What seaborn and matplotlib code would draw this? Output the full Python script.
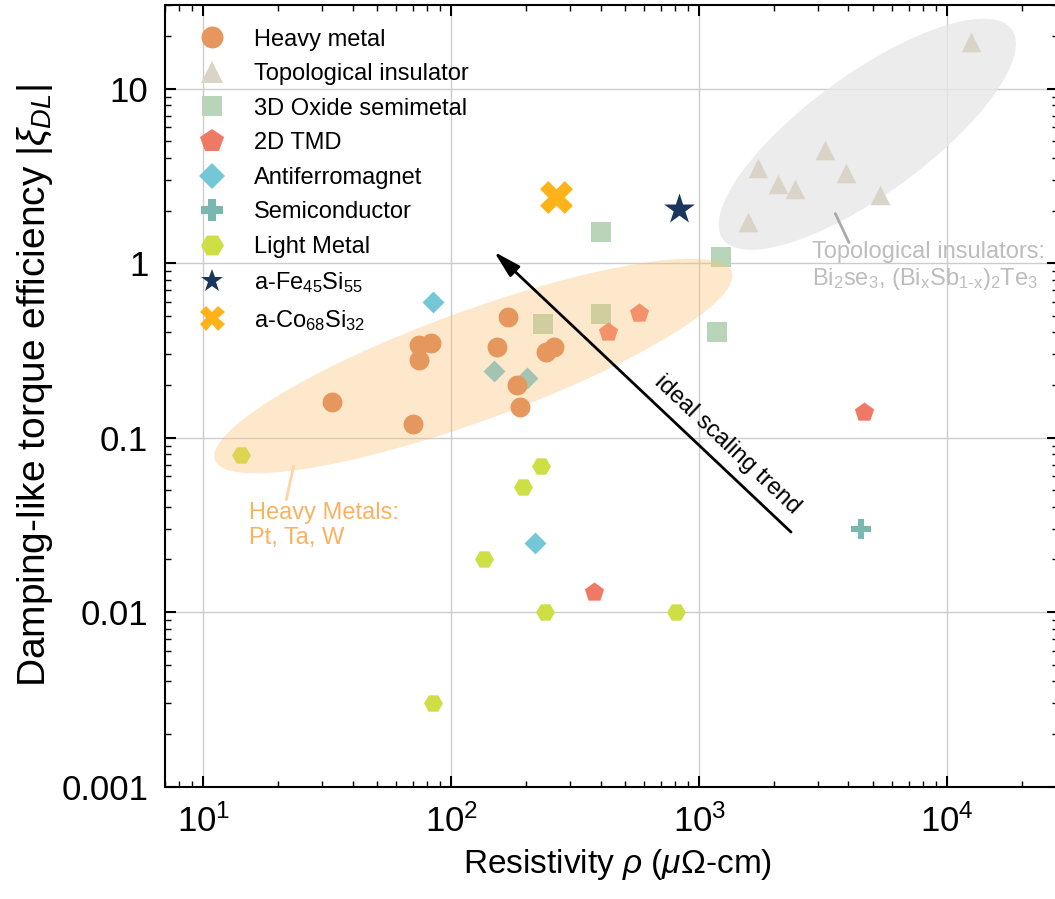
import pandas as pd
import seaborn as sns
import matplotlib.pyplot as plt
from matplotlib.lines import Line2D
from matplotlib.patches import Ellipse
from matplotlib.transforms import ScaledTranslation

# values
heavy_x = [33, 70, 74, 83, 74, 169, 153, 184, 189, 241, 260]
heavy_y = [0.16, 0.12, 0.34, 0.35, 0.28, 0.49, 0.33, 0.20, 0.15, 0.31, 0.33]
ti_x = [12500, 3220, 1730, 3920, 2080, 2440, 5350, 1580]
ti_y = [18.5, 4.45, 3.5, 3.3, 2.85, 2.65, 2.45, 1.73]
oxide_x = [234, 401, 401, 1225, 1180]
oxide_y = [0.45, 0.51, 1.50, 1.08, 0.40]
tmd_x = [574, 430, 4620, 375]
tmd_y = [0.52, 0.40, 0.14, 0.013]
afm_x = [84, 149, 202, 217]
afm_y = [0.60, 0.24, 0.22, 0.025]
semi_x = [4480]
semi_y = [0.030]
light_x = [14.2, 229, 194, 135, 239, 84.5, 807]
light_y = [0.079, 0.069, 0.052, 0.020, 0.010, 0.003, 0.010]
fesi_x = [828]
fesi_y = [2.04]
cosi_x = [264]
cosi_y = [2.4]

labels = ['Heavy metal', 'Topological insulator', '3D Oxide semimetal', '2D TMD',
          'Antiferromagnet', 'Semiconductor', 'Light Metal',
          r'a-Fe$_\mathregular{45}$Si$_\mathregular{55}$',
          r'a-Co$_\mathregular{68}$Si$_\mathregular{32}$']
xs = [heavy_x, ti_x, oxide_x, tmd_x, afm_x, semi_x, light_x, fesi_x, cosi_x]
ys = [heavy_y, ti_y, oxide_y, tmd_y, afm_y, semi_y, light_y, fesi_y, cosi_y]
colors = ['#E5975E', '#DAD4C8', '#B9D5B9', '#EE7A65', '#74C7D7', '#79B8B0',
          '#CEDF45', '#1B365D', '#FFB319']
markers = ['o', '^', 's', 'p', 'D', 'P', 'H', '*', 'X']
sizes = [205, 200, 190, 210, 125, 190, 185, 540, 560]
leg_ms = [15.8, 15.8, 15.1, 17.5, 13.5, 15.8, 16.5, 17.4, 18]

sns.set_style('white')
plt.rcParams['font.family'] = ['Liberation Sans', 'DejaVu Sans']
plt.rcParams['mathtext.fontset'] = 'custom'
plt.rcParams['mathtext.rm'] = 'Liberation Sans'
plt.rcParams['mathtext.it'] = 'Liberation Sans:italic'
plt.rcParams['mathtext.bf'] = 'Liberation Sans:bold'
for k in ['text.color', 'axes.labelcolor', 'xtick.color', 'ytick.color']:
    plt.rcParams[k] = 'black'

fig = plt.figure(figsize=(10.55, 8.99), dpi=100)
ax = fig.add_axes([165 / 1055, 112.5 / 899, 893 / 1055, 781.2 / 899])
ax.set(xscale='log', yscale='log')
ax.set_xlim(7, 28000)
ax.set_ylim(0.001, 30)

for i in range(len(labels)):
    z = 5 if i == 0 else 2
    sns.scatterplot(x=xs[i], y=ys[i], marker=markers[i], s=sizes[i],
                    color=colors[i], linewidth=0, ax=ax, zorder=z, legend=False)

# shaded regions (size in pixels, centred on a data point)
def blob(cx, cy, w, h, ang, color, alpha, z):
    tr = fig.dpi_scale_trans + ScaledTranslation(cx, cy, ax.transData)
    e = Ellipse((0, 0), w / 100, h / 100, angle=ang, transform=tr,
                facecolor=color, edgecolor='none', alpha=alpha, zorder=z)
    ax.add_patch(e)

blob(122.7, 0.257, 550, 110, 20, '#FDBF6F', 0.35, 3)
blob(4764, 5.47, 357, 120, 36, '#E6E8E7', 0.8, 1)

ax.annotate('', xy=(146, 1.19), xytext=(2390, 0.028),
            arrowprops=dict(arrowstyle='-|>,head_length=0.75,head_width=0.2',
                            lw=2, color='black', mutation_scale=22), zorder=6)
ax.text(1297, 0.091, 'ideal scaling trend', rotation=-43.3, rotation_mode='anchor',
        ha='center', va='center', fontsize=17, zorder=6)

ax.plot([23.1, 21.6], [0.0683, 0.044], color='#FDD5A5', lw=2, zorder=4)
ax.text(15.3, 0.0312, 'Heavy Metals:\nPt, Ta, W', color='#FBB260', fontsize=17,
        ha='left', va='center', zorder=6)
ax.plot([3540, 4018], [1.92, 1.31], color='#AAAAAA', lw=2, zorder=4)
ax.text(2858, 0.955,
        'Topological insulators:\n'
        r'Bi$_\mathregular{2}$se$_\mathregular{3}$, (Bi$_\mathregular{x}$Sb$_\mathregular{1\text{-}x}$)$_\mathregular{2}$Te$_\mathregular{3}$',
        color='#BDBDBD', fontsize=17, ha='left', va='center', zorder=6)

ax.set_yticks([0.001, 0.01, 0.1, 1, 10])
ax.set_yticklabels(['0.001', '0.01', '0.1', '1', '10'])
ax.tick_params(which='both', direction='in', top=True, right=True,
               bottom=True, left=True)
ax.tick_params(which='major', length=8, width=1.5, labelsize=25)
ax.tick_params(which='minor', length=4.5, width=1)
ax.tick_params(axis='y', pad=12)
ax.tick_params(axis='x', pad=13)
for s in ax.spines.values():
    s.set_linewidth(1.5)
    s.set_color('black')
ax.grid(True, which='major', color='#cccccc', lw=1)
ax.set_axisbelow(True)

ax.set_xlabel(r'Resistivity $\rho$ ($\mu\Omega$-cm)', fontsize=24)
ax.set_ylabel(r'Damping-like torque efficiency $|\xi_{DL}|$', fontsize=28)
ax.xaxis.set_label_coords(0.507, -0.0775)
ax.yaxis.set_label_coords(-0.123, 0.514)

handles = [Line2D([], [], ls='', marker=markers[i], color=colors[i],
                  markersize=leg_ms[i], markeredgewidth=0) for i in range(len(labels))]
ax.legend(handles, labels, loc='upper left', bbox_to_anchor=(0.031, 0.97),
          frameon=False, fontsize=17, labelspacing=0.53, handlelength=1.6,
          handletextpad=1.0, borderpad=0, borderaxespad=0)

fig.savefig('out.png', dpi=100)
